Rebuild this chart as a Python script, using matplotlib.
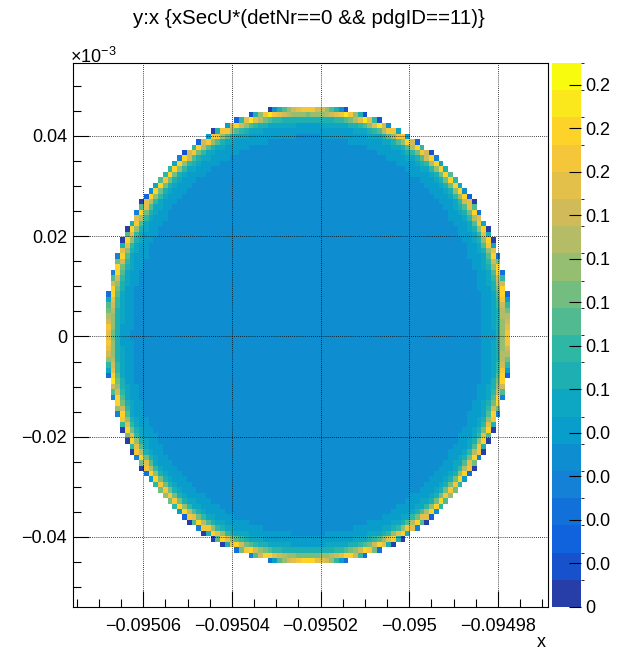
import matplotlib
matplotlib.use("Agg")
import matplotlib.pyplot as plt
import numpy as np
from matplotlib.colors import BoundaryNorm, LinearSegmentedColormap, ListedColormap
from matplotlib.ticker import MultipleLocator

plt.rcParams["font.family"] = ["Liberation Sans", "DejaVu Sans"]
plt.rcParams["mathtext.default"] = "regular"

TITLE = "y:x {xSecU*(detNr==0 && pdgID==11)}"

# histogram binning; y is kept in units of 1e-3
X_RANGE = (-0.0950759, -0.0949687)
Y_RANGE = (-0.05396, 0.05456)
N_BINS_X = 100
N_BINS_Y = 100

# footprint of the electrons on detector 0
SPOT_CENTER_X = -0.09502285
SPOT_CENTER_Y = 0.00025
SPOT_RADIUS_X = 4.535e-5
SPOT_RADIUS_Y = 0.0454

# weight per unit area vs normalised radius (rises sharply at the rim)
PROFILE_RHO = [0.00, 0.70, 0.86, 0.91, 0.94, 0.96, 0.975, 0.99, 1.00]
PROFILE_WEIGHT = [0.064, 0.066, 0.072, 0.082, 0.095, 0.120, 0.165, 0.240, 0.320]

X_TICKS = [-0.09506, -0.09504, -0.09502, -0.095, -0.09498]
X_TICK_LABELS = ["\u22120.09506", "\u22120.09504", "\u22120.09502", "\u22120.095", "\u22120.09498"]
Y_TICKS = [-0.04, -0.02, 0.0, 0.02, 0.04]
Y_TICK_LABELS = ["\u22120.04", "\u22120.02", "0", "0.02", "0.04"]

Z_MAX = 0.25
N_CONTOURS = 20
Z_TICKS = [0.0, 0.02, 0.04, 0.06, 0.08, 0.10, 0.12, 0.14, 0.16, 0.18, 0.20, 0.22, 0.24]
Z_TICK_LABELS = ["0", "0.0", "0.0", "0.0", "0.0", "0.1", "0.1", "0.1", "0.1", "0.1",
                 "0.2", "0.2", "0.2"]

# ROOT kBird palette stops
BIRD = [(0.2082, 0.1664, 0.5293), (0.0592, 0.3599, 0.8684), (0.0780, 0.5041, 0.8385),
        (0.0232, 0.6419, 0.7914), (0.1802, 0.7178, 0.6425), (0.5301, 0.7492, 0.4662),
        (0.8186, 0.7328, 0.3499), (0.9956, 0.7862, 0.1968), (0.9764, 0.9832, 0.0539)]


def bird_levels(n):
    base = LinearSegmentedColormap.from_list("bird", BIRD, N=255)
    idx = [int((i + 0.99) * 255 / n) for i in range(n)]
    return ListedColormap([base(min(k, 254) / 254) for k in idx])


def fill_histogram(sub=10):
    xe = np.linspace(*X_RANGE, N_BINS_X + 1)
    ye = np.linspace(*Y_RANGE, N_BINS_Y + 1)
    dx = (xe[1] - xe[0]) / sub
    dy = (ye[1] - ye[0]) / sub
    xs = xe[0] + (np.arange(N_BINS_X * sub) + 0.5) * dx
    ys = ye[0] + (np.arange(N_BINS_Y * sub) + 0.5) * dy
    X, Y = np.meshgrid(xs, ys)
    rho = np.hypot((X - SPOT_CENTER_X) / SPOT_RADIUS_X, (Y - SPOT_CENTER_Y) / SPOT_RADIUS_Y)
    w = np.where(rho <= 1.0, np.interp(rho, PROFILE_RHO, PROFILE_WEIGHT), 0.0)
    h = w.reshape(N_BINS_Y, sub, N_BINS_X, sub).mean(axis=(1, 3))
    return xe, ye, np.ma.masked_less_equal(h, 0.002)


xe, ye, hist = fill_histogram()

fig = plt.figure(figsize=(6.18, 6.5), dpi=100)
ax = fig.add_axes([0.1176, 0.0662, 0.7691, 0.8369])
cax = fig.add_axes([0.8935, 0.0662, 0.0470, 0.8369])

levels = np.linspace(0, Z_MAX, N_CONTOURS + 1)
cmap = bird_levels(N_CONTOURS)
norm = BoundaryNorm(levels, cmap.N)
mesh = ax.pcolormesh(xe, ye, hist, cmap=cmap, norm=norm, zorder=1)

ax.set_xlim(*X_RANGE)
ax.set_ylim(*Y_RANGE)
ax.set_xticks(X_TICKS)
ax.set_xticklabels(X_TICK_LABELS)
ax.set_yticks(Y_TICKS)
ax.set_yticklabels(Y_TICK_LABELS)
ax.xaxis.set_minor_locator(MultipleLocator(0.000005))
ax.yaxis.set_minor_locator(MultipleLocator(0.005))
ax.tick_params(which="both", direction="in", top=False, right=False,
               labelsize=13, width=0.8)
ax.tick_params(axis="x", which="major", length=11.5, pad=8)
ax.tick_params(axis="y", which="major", length=11.5, pad=4)
ax.tick_params(which="minor", length=5.8)
ax.grid(True, which="major", color="black", linestyle=(0, (1, 1.5)), linewidth=0.6)
ax.set_axisbelow(False)
for s in ax.spines.values():
    s.set_linewidth(0.8)
    s.set_zorder(3)

ax.set_xlabel("x", fontsize=13, ha="right")
ax.xaxis.set_label_coords(0.995, -0.05)
ax.text(-0.005, 0.993, "\u00d710$^{-3}$", transform=ax.transAxes, fontsize=13,
        ha="left", va="bottom")
fig.text(0.5, 0.972, TITLE, ha="center", va="center", fontsize=14.8)

cb = fig.colorbar(mesh, cax=cax, ticks=Z_TICKS, boundaries=levels)
cb.outline.set_visible(False)
cax.set_yticklabels(Z_TICK_LABELS)
cax.tick_params(direction="in", length=9, width=0.8, labelsize=13, pad=3,
                left=False, right=True)

fig.savefig("out.png", dpi=100)
